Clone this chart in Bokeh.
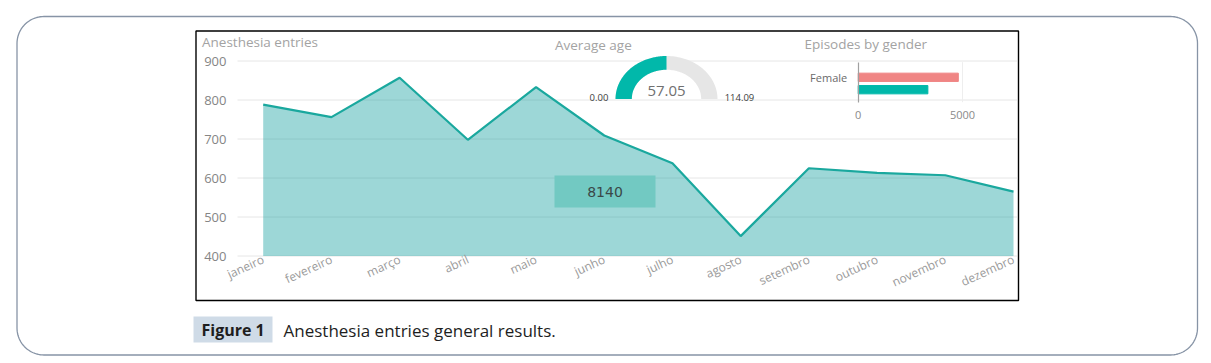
import numpy as np
from bokeh.plotting import figure
from bokeh.models import Range1d, LinearAxis, FixedTicker, ColumnDataSource
from bokeh.core.properties import value
from bokeh.embed import file_html
from bokeh.resources import INLINE

# ---------------- data ----------------
months = ["janeiro", "fevereiro", "março", "abril", "maio", "junho",
          "julho", "agosto", "setembro", "outubro", "novembro", "dezembro"]
entries = [788, 756, 857, 698, 833, 709, 638, 451, 625, 613, 607, 565]
y_ticks = [400, 500, 600, 700, 800, 900]
genders = ["Female", "Male"]
gender_counts = [4800, 3340]
gender_ticks = [0, 5000]
age_min = 0.00
age_max = 114.09
age_avg = 57.05
total_entries = sum(entries)

# ---------------- layout helpers ----------------
W, H = 1205, 360
PX0, PX1 = 0, W      # page x covered by canvas
PY0, PY1 = 0, H      # page y covered by canvas
FONT = "Open Sans"


def lin_range(v0, p0, v1, p1, pa, pb):
    k = (v1 - v0) / (p1 - p0)
    return Range1d(start=v0 + (pa - p0) * k, end=v0 + (pb - p0) * k)


def xr(v0, p0, v1, p1):
    return lin_range(v0, p0, v1, p1, PX0, PX1)


def yr(v0, p0, v1, p1):
    return lin_range(v0, p0, v1, p1, PY1, PY0)


p = figure(width=W, height=H,
           x_range=Range1d(PX0, PX1), y_range=Range1d(PY1, PY0),
           x_axis_location=None, y_axis_location=None,
           toolbar_location=None, output_backend="svg",
           min_border=0, outline_line_color=None,
           background_fill_color="white", border_fill_color="white")
p.grid.visible = False

p.extra_x_ranges = {
    "mx": xr(0, 262.7, 11, 1013.0),
    "gx": xr(0, 857.7, 5000, 962.0),
    "ax": xr(0, 666.0, 1, 717.0),
}
p.extra_y_ranges = {
    "my": yr(400, 255.5, 900, 60.5),
    "gy": yr(0, 76.8, 1, 89.2),
    "ay": yr(0, 98.5, 1, 55.5),
}

# ---------------- decorations: outer rounded border ----------------
def rounded_rect(x0, y0, x1, y1, r, n=24):
    xs, ys = [], []
    corners = [(x1 - r, y0 + r, -np.pi / 2, 0),
               (x1 - r, y1 - r, 0, np.pi / 2),
               (x0 + r, y1 - r, np.pi / 2, np.pi),
               (x0 + r, y0 + r, np.pi, 1.5 * np.pi)]
    for cx, cy, a0, a1 in corners:
        t = np.linspace(a0, a1, n)
        xs.extend(cx + r * np.cos(t))
        ys.extend(cy + r * np.sin(t))
    xs.append(xs[0]); ys.append(ys[0])
    return xs, ys

bx, by = rounded_rect(16.5, 16.0, 1197.0, 354.5, 27)
p.line(bx, by, line_color="#8794a6", line_width=1.3)

# inner black frame
p.quad(left=195.5, right=1018.0, top=30.5, bottom=300.0,
       fill_color=None, line_color="black", line_width=1.4)

# ---------------- area chart ----------------
mx_k = 11 / (1013.0 - 262.7)
grid_x0 = (237.0 - 262.7) * mx_k
grid_x1 = (1016.5 - 262.7) * mx_k
p.segment(x0=[grid_x0] * len(y_ticks), x1=[grid_x1] * len(y_ticks),
          y0=y_ticks, y1=y_ticks, x_range_name="mx", y_range_name="my",
          line_color="#e6e6e6", line_width=1)

src = ColumnDataSource(dict(x=list(range(len(months))), y=entries,
                            base=[y_ticks[0]] * len(months)))
p.varea(x="x", y1="base", y2="y", source=src, x_range_name="mx",
        y_range_name="my", fill_color="#16a0a0", fill_alpha=0.42)
p.line(x="x", y="y", source=src, x_range_name="mx", y_range_name="my",
       line_color="#1aa89e", line_width=2.2)

yaxis = LinearAxis(y_range_name="my", ticker=FixedTicker(ticks=y_ticks),
                   fixed_location=226.0,
                   axis_line_color=None, major_tick_line_color=None,
                   minor_tick_line_color=None, major_tick_out=0, major_tick_in=0,
                   major_label_standoff=0,
                   major_label_text_font=FONT, major_label_text_font_size="13px",
                   major_label_text_color="#858585")
p.add_layout(yaxis, "left")

xaxis = LinearAxis(x_range_name="mx", ticker=FixedTicker(ticks=list(range(len(months)))),
                   major_label_overrides={i: m for i, m in enumerate(months)},
                   fixed_location=256.0,
                   axis_line_color=None, major_tick_line_color=None,
                   minor_tick_line_color=None, major_tick_out=0, major_tick_in=0,
                   major_label_standoff=2, major_label_orientation=0.43,
                   major_label_text_font=FONT, major_label_text_font_size="12px",
                   major_label_text_color="#9a9a9a")
p.add_layout(xaxis, "below")

# total card
p.quad(left=554, right=655, top=175, bottom=207, fill_color="#72c9c2",
       line_color=None)
p.text(x=[604.5], y=[191.5], text=[str(total_entries)],
       text_font=value("DejaVu Sans"), text_font_size="14px",
       text_color="#3a4848", text_align="center", text_baseline="middle")

# ---------------- gauge ----------------
R_IN = 0.68


def annulus(t0, t1, n=90):
    t = np.linspace(t0, t1, n)
    xs = np.concatenate([np.cos(t), R_IN * np.cos(t[::-1])])
    ys = np.concatenate([np.sin(t), R_IN * np.sin(t[::-1])])
    return xs, ys

frac = (age_avg - age_min) / (age_max - age_min)
gx_bg, gy_bg = annulus(np.pi, 0)
gx_v, gy_v = annulus(np.pi, np.pi - np.pi * frac)
p.patch(gx_bg, gy_bg, x_range_name="ax", y_range_name="ay",
        fill_color="#e6e6e6", line_color=None)
p.patch(gx_v, gy_v, x_range_name="ax", y_range_name="ay",
        fill_color="#01b8aa", line_color=None)
p.text(x=[0.0], y=[0.18], text=[f"{age_avg:.2f}"], x_range_name="ax",
       y_range_name="ay", text_font=value(FONT), text_font_size="15px",
       text_color="#707070", text_align="center", text_baseline="middle")
p.text(x=[-1.14], y=[0.03], text=[f"{age_min:.2f}"], x_range_name="ax",
       y_range_name="ay", text_font=value(FONT), text_font_size="9.5px",
       text_color="#3c3c3c", text_align="right", text_baseline="middle")
p.text(x=[1.14], y=[0.03], text=[f"{age_max:.2f}"], x_range_name="ax",
       y_range_name="ay", text_font=value(FONT), text_font_size="9.5px",
       text_color="#3c3c3c", text_align="left", text_baseline="middle")

# ---------------- gender bars ----------------
gy_k = 1 / (89.2 - 76.8)
g_lo = (61.7 - 76.8) * gy_k
g_hi = (101.7 - 76.8) * gy_k
p.segment(x0=gender_ticks[1:], x1=gender_ticks[1:], y0=[g_lo], y1=[g_hi],
          x_range_name="gx", y_range_name="gy", line_color="#eeeeee",
          line_width=1)
p.hbar(y=list(range(len(genders))), right=gender_counts, left=0, height=0.67,
       color=["#f08584", "#01b8aa"], x_range_name="gx", y_range_name="gy")

gcat = LinearAxis(x_range_name="gx", y_range_name="gy", fixed_location=0,
                  ticker=FixedTicker(ticks=[0]),
                  major_label_overrides={0: genders[0]},
                  bounds=(g_lo, g_hi),
                  axis_line_color="#a0a0a0", axis_line_width=1.2,
                  major_tick_line_color=None, minor_tick_line_color=None,
                  major_tick_out=0, major_tick_in=0, major_label_standoff=11,
                  major_label_text_font=FONT, major_label_text_font_size="11px",
                  major_label_text_color="#6a6a6a")
p.add_layout(gcat, "left")

gval = LinearAxis(x_range_name="gx", fixed_location=104.0,
                  ticker=FixedTicker(ticks=gender_ticks),
                  axis_line_color=None, major_tick_line_color=None,
                  minor_tick_line_color=None, major_tick_out=0, major_tick_in=0,
                  major_label_standoff=6,
                  major_label_text_font=FONT, major_label_text_font_size="11px",
                  major_label_text_color="#8a8a8a")
p.add_layout(gval, "below")

# ---------------- titles ----------------
p.text(x=[201.5, 554.5, 804.0], y=[41.0, 44.0, 43.5],
       text=["Anesthesia entries", "Average age", "Episodes by gender"],
       text_font=value(FONT), text_font_size="13.5px", text_color="#a3a3a3",
       text_align="left", text_baseline="middle")

# ---------------- caption ----------------
p.quad(left=193, right=272, top=316, bottom=342, fill_color="#cfdbe7",
       line_color=None)
p.text(x=[201.0], y=[329.5], text=["Figure 1"], text_font=value(FONT),
       text_font_size="16px", text_font_style="bold", text_color="#1e1e1e",
       text_align="left", text_baseline="middle")
p.text(x=[283.0], y=[329.5], text=["Anesthesia entries general results."],
       text_font=value(FONT), text_font_size="17px", text_color="#1e1e1e",
       text_align="left", text_baseline="middle")

open("out.html", "w").write(file_html(p, INLINE))
